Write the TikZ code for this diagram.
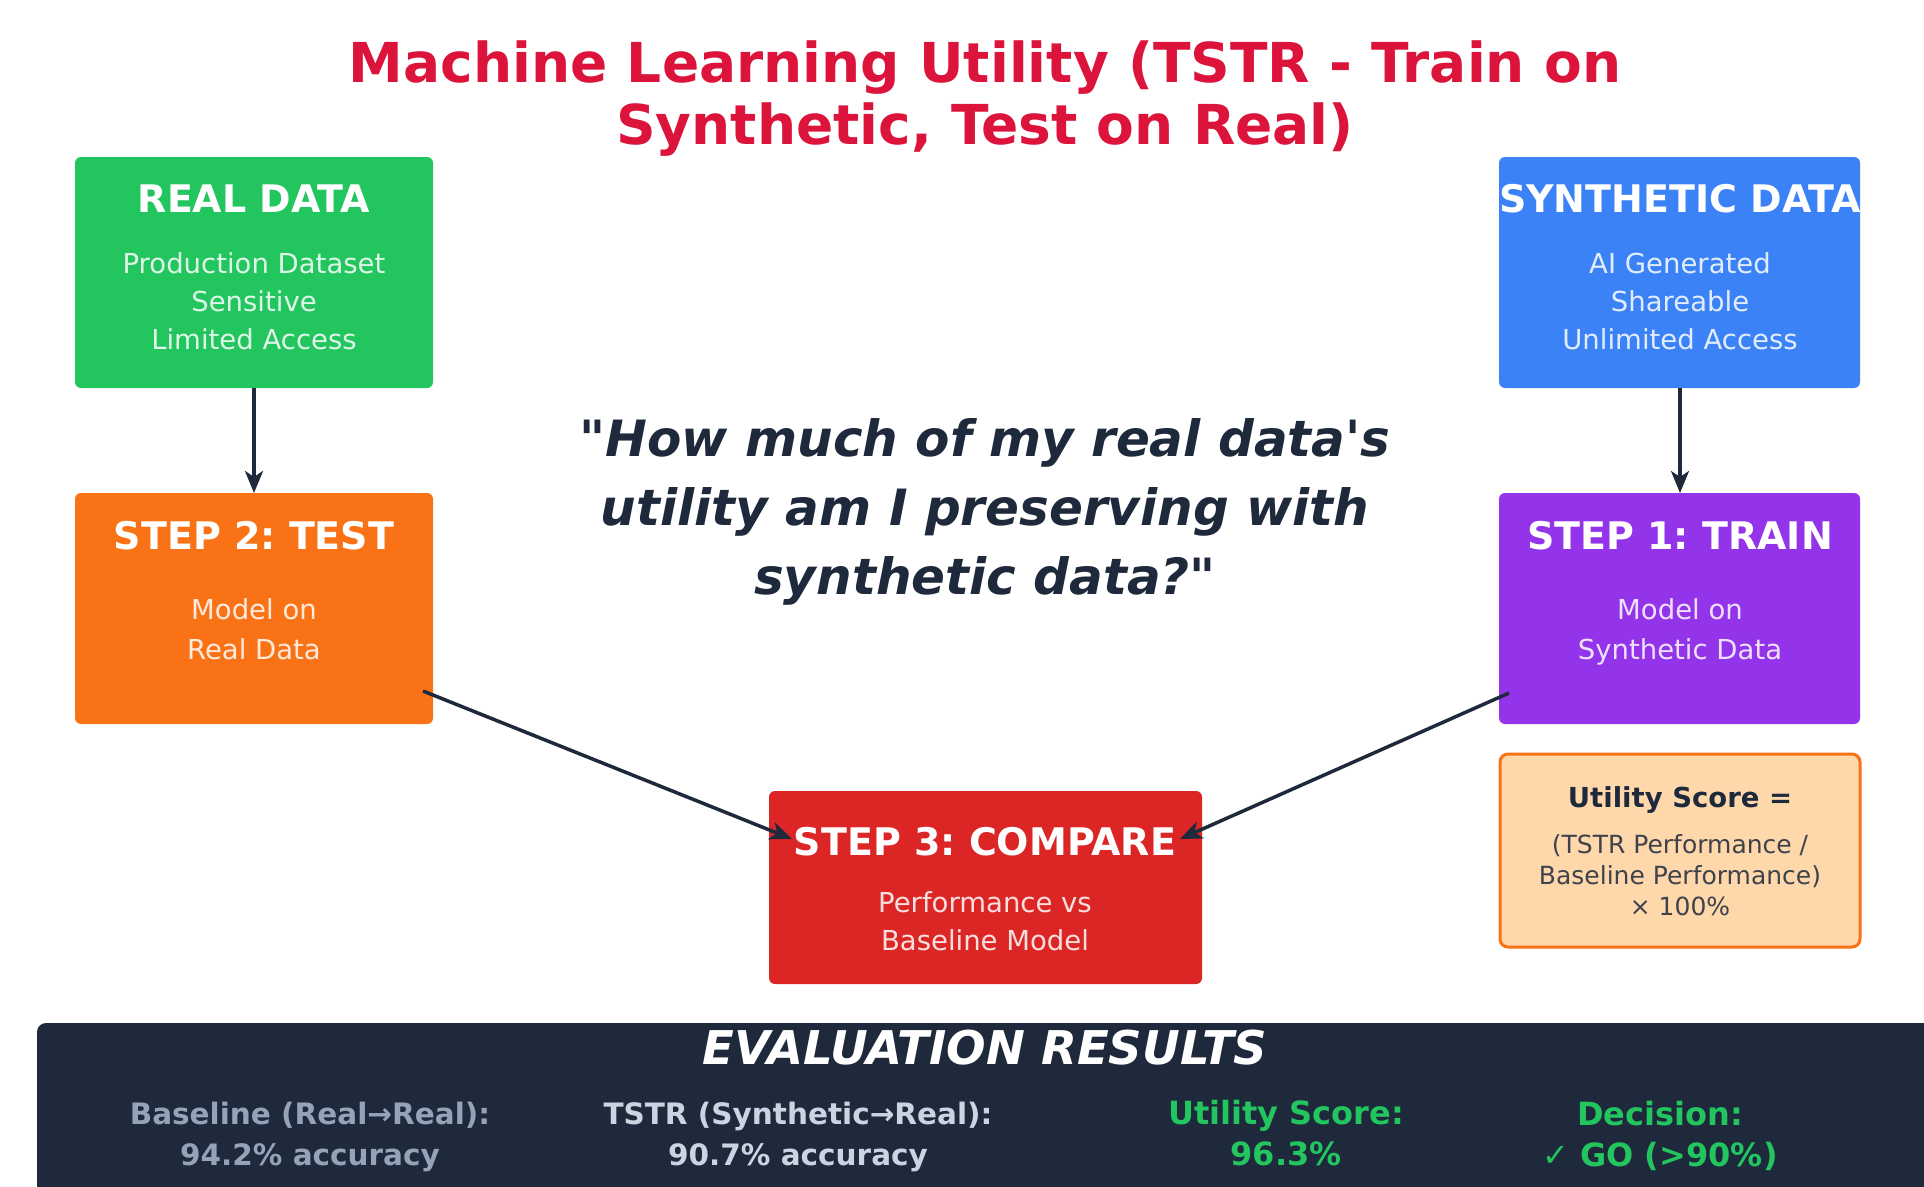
\documentclass[tikz,border=0pt]{standalone}
\usepackage{fontspec}
\setmainfont{DejaVu Sans}[Ligatures=TeXOff]
\usetikzlibrary{arrows.meta}
\definecolor{cgreen}{HTML}{22C55E}
\definecolor{cblue}{HTML}{3B82F6}
\definecolor{corange}{HTML}{F97316}
\definecolor{cpurple}{HTML}{9333EA}
\definecolor{cred}{HTML}{DC2626}
\definecolor{cpeach}{HTML}{FED7AA}
\definecolor{cdark}{HTML}{1E293B}
\definecolor{ctitle}{HTML}{DC143C}
\definecolor{cgray}{HTML}{94A3B8}
\definecolor{clight}{HTML}{CBD5E1}
\tikzset{
  box/.style={rounded corners=6pt, inner sep=0pt},
  btitle/.style={text=white, font=\fontsize{38}{42}\selectfont\bfseries},
  bsub/.style={text=white, text opacity=0.85, align=center, font=\fontsize{27.5}{38}\selectfont},
  conn/.style={draw=cdark, line width=3.5pt, -{Stealth[length=22pt,width=18pt,inset=6pt]}},
  evhead/.style={text=clight, align=center, font=\fontsize{29.5}{41}\selectfont\bfseries},
  evgreen/.style={text=cgreen, align=center, font=\fontsize{32}{41}\selectfont\bfseries},
}
\begin{document}
\frenchspacing
\begin{tikzpicture}[x=1pt,y=-1pt]
\useasboundingbox (0,0) rectangle (1924,1186);
\fill[white] (0,0) rectangle (1924,1186);
% title
\node[text=ctitle, align=center, font=\fontsize{55}{62}\selectfont\bfseries] (title) at (985,99) {Machine Learning Utility (TSTR - Train on\\Synthetic, Test on Real)};
% boxes
\fill[cgreen, box] (75,157) rectangle (433,388);
\coordinate (realbot) at (254,388);
\node[btitle] (realt) at (254,199) {REAL DATA};
\node[bsub] (reals) at (254,301) {Production Dataset\\Sensitive\\Limited Access};

\fill[cblue, box] (1499,157) rectangle (1860,388);
\coordinate (synbot) at (1680,388);
\node[btitle] (synt) at (1680,199) {SYNTHETIC DATA};
\node[bsub] (syns) at (1680,301) {AI Generated\\Shareable\\Unlimited Access};

\fill[corange, box] (75,493) rectangle (433,724);
\coordinate (s2top) at (254,493);
\coordinate (s2out) at (423,691);
\node[btitle] (s2t) at (254,536) {STEP 2: TEST};
\node[bsub, font=\fontsize{27.5}{40}\selectfont] (s2s) at (254,629) {Model on\\Real Data};

\fill[cpurple, box] (1499,493) rectangle (1860,724);
\coordinate (s1top) at (1680,493);
\coordinate (s1out) at (1509,693);
\node[btitle] (s1t) at (1680,536) {STEP 1: TRAIN};
\node[bsub, font=\fontsize{27.5}{40}\selectfont] (s1s) at (1680,632) {Model on\\Synthetic Data};

\fill[cred, box] (769,791) rectangle (1202,984);
\coordinate (s3l) at (792,839);
\coordinate (s3r) at (1180,839);
\node[btitle] (s3t) at (985,842) {STEP 3: COMPARE};
\node[bsub] (s3s) at (985,921) {Performance vs\\Baseline Model};

\draw[corange, fill=cpeach, line width=3pt, rounded corners=8pt] (1500,754) rectangle (1860,947);
\node[text=cdark, font=\fontsize{27.5}{30}\selectfont\bfseries] (ut) at (1680,800) {Utility Score =};
\node[text=cdark, text opacity=0.85, align=center, font=\fontsize{25}{31}\selectfont] (us) at (1680,875) {(TSTR Performance /\\Baseline Performance)\\× 100\%};

% question
\node[text=cdark, align=center, font=\fontsize{50}{69}\selectfont\bfseries\itshape] (q) at (985,512) {"How much of my real data's\\utility am I preserving with\\synthetic data?"};

% connectors
\draw[conn] (realbot) -- (s2top);
\draw[conn] (synbot) -- (s1top);
\draw[conn] (s2out) -- (s3l);
\draw[conn] (s1out) -- (s3r);

% evaluation band
\fill[cdark, rounded corners=9pt] (37,1023) -- (1934,1023) -- (1934,1196) -- (37,1196) -- cycle;
\node[text=white, font=\fontsize{46.5}{50}\selectfont\bfseries\itshape] (evt) at (985,1048) {EVALUATION RESULTS};
\node[evhead, text=cgray] (e1) at (310,1137) {Baseline (Real→Real):\\94.2\% accuracy};
\node[evhead] (e2) at (798,1137) {TSTR (Synthetic→Real):\\90.7\% accuracy};
\node[evgreen] (e3) at (1286,1133) {Utility Score:\\96.3\%};
\node[evgreen] (e4) at (1660,1136) {Decision:\\✓ GO (>90\%)};
\end{tikzpicture}
\end{document}
